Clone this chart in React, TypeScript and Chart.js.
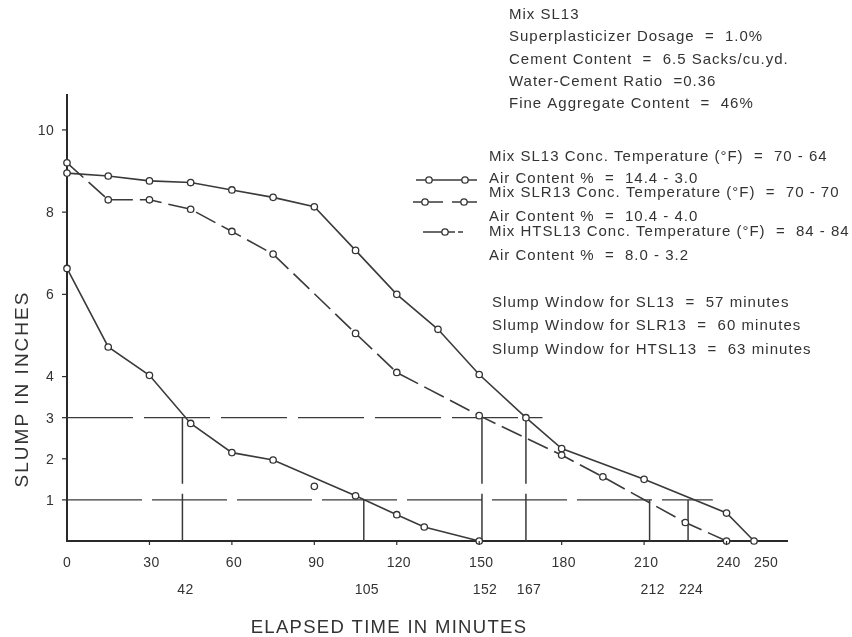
import React, { useEffect, useRef } from 'react';
import { Chart, registerables } from 'chart.js';

Chart.register(...registerables);

// ---- data ----
const sl13Time = [0, 15, 30, 45, 60, 75, 90, 105, 120, 135, 150, 167, 180, 210, 240, 250];
const sl13Slump = [8.95, 8.88, 8.76, 8.72, 8.54, 8.36, 8.13, 7.07, 6.0, 5.15, 4.05, 3.0, 2.25, 1.5, 0.68, 0];

const slr13Time = [0, 15, 30, 45, 60, 75, 105, 120, 150, 180, 195, 225, 240];
const slr13Slump = [9.2, 8.3, 8.3, 8.07, 7.53, 6.98, 5.05, 4.1, 3.05, 2.09, 1.56, 0.45, 0];

const htsl13Time = [0, 15, 30, 45, 60, 75, 105, 120, 130, 150];
const htsl13Slump = [6.63, 4.72, 4.03, 2.86, 2.15, 1.97, 1.1, 0.64, 0.34, 0];

// stray measured points not on the drawn curve
const strayTime = [90];
const straySlump = [1.33];

// slump-window reference lines
const limitSlump = [3, 1];
const limitEnd = [173, 235];
const windowTime = [42, 108, 151, 167, 212, 226];
const windowTop = [3, 1, 3, 3, 1, 1];
const windowLabels = ['42', '105', '152', '167', '212', '224'];

const xTickValues = [0, 30, 60, 90, 120, 150, 180, 210, 240, 250];
const yTickValues = [1, 2, 3, 4, 6, 8, 10];

const mixInfo = [
  'Mix SL13',
  'Superplasticizer Dosage  =  1.0%',
  'Cement Content  =  6.5 Sacks/cu.yd.',
  'Water-Cement Ratio  =0.36',
  'Fine Aggregate Content  =  46%',
];
const legendLines = [
  'Mix SL13 Conc. Temperature (°F)  =  70 - 64',
  'Air Content %  =  14.4 - 3.0',
  'Mix SLR13 Conc. Temperature (°F)  =  70 - 70',
  'Air Content %  =  10.4 - 4.0',
  'Mix HTSL13 Conc. Temperature (°F)  =  84 - 84',
  'Air Content %  =  8.0 - 3.2',
];
const windowText = [
  'Slump Window for SL13  =  57 minutes',
  'Slump Window for SLR13  =  60 minutes',
  'Slump Window for HTSL13  =  63 minutes',
];
const xTitle = 'ELAPSED TIME IN MINUTES';
const yTitle = 'SLUMP IN INCHES';

const FONT = '"Liberation Sans", Arial, sans-serif';
const INK = '#333333';
const LINE = '#3a3a3a';

const pts = (xs: number[], ys: number[]) => xs.map((x, i) => ({ x, y: ys[i] }));

function txt(ctx: CanvasRenderingContext2D, s: string, x: number, y: number, size: number, align: CanvasTextAlign = 'left', spacing = 0) {
  ctx.save();
  ctx.font = `${size}px ${FONT}`;
  (ctx as any).letterSpacing = `${spacing}px`;
  ctx.fillStyle = INK;
  ctx.textAlign = align;
  ctx.textBaseline = 'middle';
  ctx.fillText(s, x, y);
  ctx.restore();
}

function marker(ctx: CanvasRenderingContext2D, x: number, y: number) {
  ctx.beginPath();
  ctx.arc(x, y, 3.2, 0, Math.PI * 2);
  ctx.fillStyle = '#fff';
  ctx.fill();
  ctx.lineWidth = 1.3;
  ctx.strokeStyle = INK;
  ctx.stroke();
}

const decorPlugin = {
  id: 'decor',
  afterDraw(chart: any) {
    const ctx: CanvasRenderingContext2D = chart.ctx;
    const xs = chart.scales.x;
    const ys = chart.scales.y;
    const bottom = ys.getPixelForValue(0);
    const left = xs.getPixelForValue(0);
    ctx.save();
    ctx.strokeStyle = '#2a2a2a';
    ctx.lineWidth = 1.2;
    // x ticks
    xTickValues.forEach((v) => {
      const px = xs.getPixelForValue(v);
      if (v > 0 && v < 250) {
        ctx.beginPath();
        ctx.moveTo(px, bottom);
        ctx.lineTo(px, bottom + 4);
        ctx.stroke();
      }
      const off = v === 250 ? 12 : v === 0 ? 0 : 2;
      txt(ctx, String(v), px + off, bottom + 22, 14, 'center', 0.3);
    });
    windowTime.forEach((v, i) => {
      const px = xs.getPixelForValue(v);
      txt(ctx, windowLabels[i], px + 3, bottom + 49, 14, 'center', 0.3);
    });
    // y ticks
    yTickValues.forEach((v) => {
      const py = ys.getPixelForValue(v);
      ctx.beginPath();
      ctx.moveTo(left - 5, py);
      ctx.lineTo(left, py);
      ctx.stroke();
      txt(ctx, String(v), 54, py + 1, 14, 'right', 0.3);
    });
    // titles
    txt(ctx, xTitle, 389, 628, 18.5, 'center', 1.3);
    ctx.save();
    ctx.translate(23, 389);
    ctx.rotate(-Math.PI / 2);
    txt(ctx, yTitle, 0, 0, 19, 'center', 2.0);
    ctx.restore();
    // mix info
    mixInfo.forEach((s, i) => txt(ctx, s, 509, 15 + i * 22.3, 15, 'left', 1));
    // legend text
    const ly = [156.5, 179, 193, 217, 231.5, 256];
    legendLines.forEach((s, i) => txt(ctx, s, 489, ly[i], 15, 'left', 1));
    windowText.forEach((s, i) => txt(ctx, s, 492, 302.5 + i * 23.5, 15, 'left', 1.05));
    // legend symbols
    ctx.strokeStyle = LINE;
    ctx.lineWidth = 1.5;
    ctx.beginPath();
    ctx.moveTo(416, 180);
    ctx.lineTo(477, 180);
    ctx.stroke();
    marker(ctx, 429, 180);
    marker(ctx, 465, 180);
    ctx.strokeStyle = LINE;
    ctx.lineWidth = 1.5;
    ctx.beginPath();
    ctx.moveTo(413, 202);
    ctx.lineTo(443, 202);
    ctx.moveTo(452, 202);
    ctx.lineTo(477, 202);
    ctx.stroke();
    marker(ctx, 425, 202);
    marker(ctx, 464, 202);
    ctx.strokeStyle = LINE;
    ctx.lineWidth = 1.5;
    ctx.beginPath();
    ctx.moveTo(423, 232);
    ctx.lineTo(455, 232);
    ctx.moveTo(458, 232);
    ctx.lineTo(463, 232);
    ctx.stroke();
    marker(ctx, 445, 232);
    ctx.restore();
  },
};

export default function App() {
  const ref = useRef<HTMLCanvasElement>(null);
  useEffect(() => {
    document.body.style.margin = '0';
    const refLineStyle = {
      showLine: true,
      borderColor: LINE,
      borderWidth: 1.3,
      pointRadius: 0,
      clip: false as any,
    };
    const seriesStyle = {
      showLine: true,
      borderColor: LINE,
      borderWidth: 1.6,
      pointRadius: 3.2,
      pointBorderWidth: 1.3,
      pointBackgroundColor: '#ffffff',
      pointBorderColor: INK,
      tension: 0,
      clip: false as any,
    };
    const datasets: any[] = [
      { ...seriesStyle, label: 'SL13', data: pts(sl13Time, sl13Slump) },
      { ...seriesStyle, label: 'SLR13', data: pts(slr13Time, slr13Slump), borderDash: [22, 7] },
      { ...seriesStyle, label: 'HTSL13', data: pts(htsl13Time, htsl13Slump) },
      { ...seriesStyle, label: 'stray', showLine: false, data: pts(strayTime, straySlump) },
    ];
    limitSlump.forEach((s, i) => {
      datasets.push({
        ...refLineStyle,
        label: `limit ${s}`,
        borderDash: i === 0 ? [66, 11] : [75, 10],
        data: [{ x: 0, y: s }, { x: limitEnd[i], y: s }],
      });
    });
    windowTime.forEach((t, i) => {
      datasets.push({
        ...refLineStyle,
        label: `window ${windowLabels[i]}`,
        borderWidth: 1.5,
        borderDash: [66, 10],
        data: [{ x: t, y: windowTop[i] }, { x: t, y: 0 }],
      });
    });
    const chart = new Chart(ref.current!, {
      type: 'scatter',
      data: { datasets },
      options: {
        animation: false,
        responsive: false,
        devicePixelRatio: 1,
        layout: { autoPadding: false, padding: { left: 67, right: 65, top: 95, bottom: 96 } },
        plugins: { legend: { display: false }, tooltip: { enabled: false } },
        scales: {
          x: {
            type: 'linear',
            min: 0,
            max: 262,
            grid: { display: false, drawTicks: false, tickLength: 0 },
            ticks: { display: false },
            border: { display: true, color: '#2a2a2a', width: 2 },
          },
          y: {
            type: 'linear',
            min: 0,
            max: 10.85,
            grid: { display: false, drawTicks: false, tickLength: 0 },
            ticks: { display: false },
            border: { display: true, color: '#2a2a2a', width: 2 },
          },
        },
      },
      plugins: [decorPlugin],
    });
    return () => chart.destroy();
  }, []);
  return (
    <div style={{ width: 852, height: 637, background: '#fff' }}>
      <canvas ref={ref} width={852} height={637} style={{ width: 852, height: 637, display: 'block' }} />
    </div>
  );
}
